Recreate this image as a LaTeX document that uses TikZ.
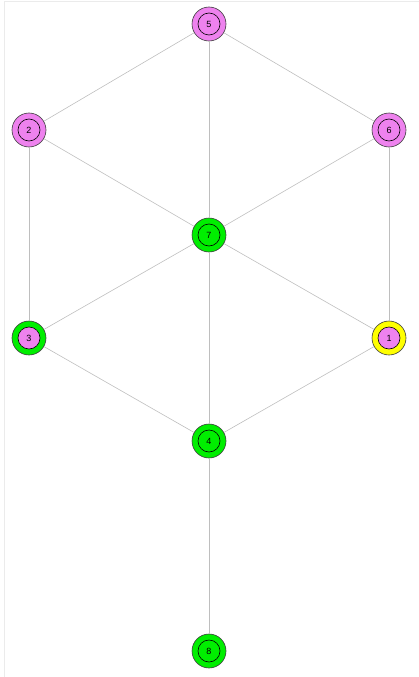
\documentclass[tikz,border=0pt]{standalone}
\usepackage{fontspec}
\setmainfont{Liberation Sans}
\definecolor{vio}{RGB}{238,130,238}
\definecolor{grn}{RGB}{0,238,0}
\definecolor{yel}{RGB}{255,255,0}
\definecolor{edge}{RGB}{190,190,190}
\definecolor{frame}{RGB}{235,235,235}
\definecolor{rim}{RGB}{60,60,60}
\tikzset{
  vnode/.style={circle,minimum size=34pt,inner sep=0pt,draw=rim,line width=0.6pt,fill=#1},
  inner/.style={circle,minimum size=22pt,inner sep=0pt,draw=black,line width=0.6pt,fill=#1,font=\fontsize{9}{9}\selectfont},
  link/.style={draw=edge,line width=0.6pt}
}
\begin{document}
\begin{tikzpicture}[x=1pt,y=-1pt]
\useasboundingbox (0,0) rectangle (419,677);
\draw[frame,line width=1pt] (4,677) -- (4,1.5) -- (419,1.5);
% outer circles
\foreach \n/\x/\y/\c in {5/209/24/vio,2/29/130/vio,6/389/130/vio,7/209/235/grn,3/29/338/grn,1/389/338/yel,4/209/441/grn,8/209/651/grn}
  \node[vnode=\c] (o\n) at (\x,\y) {};
% edges
\foreach \a/\b in {5/2,5/6,5/7,2/7,6/7,2/3,6/1,7/3,7/1,7/4,3/4,1/4,4/8}
  \draw[link] (o\a) -- (o\b);
% inner circles
\foreach \n/\c in {5/vio,2/vio,6/vio,7/grn,3/vio,1/vio,4/grn,8/grn}
  \node[inner=\c] (i\n) at (o\n) {\n};
\end{tikzpicture}
\end{document}
